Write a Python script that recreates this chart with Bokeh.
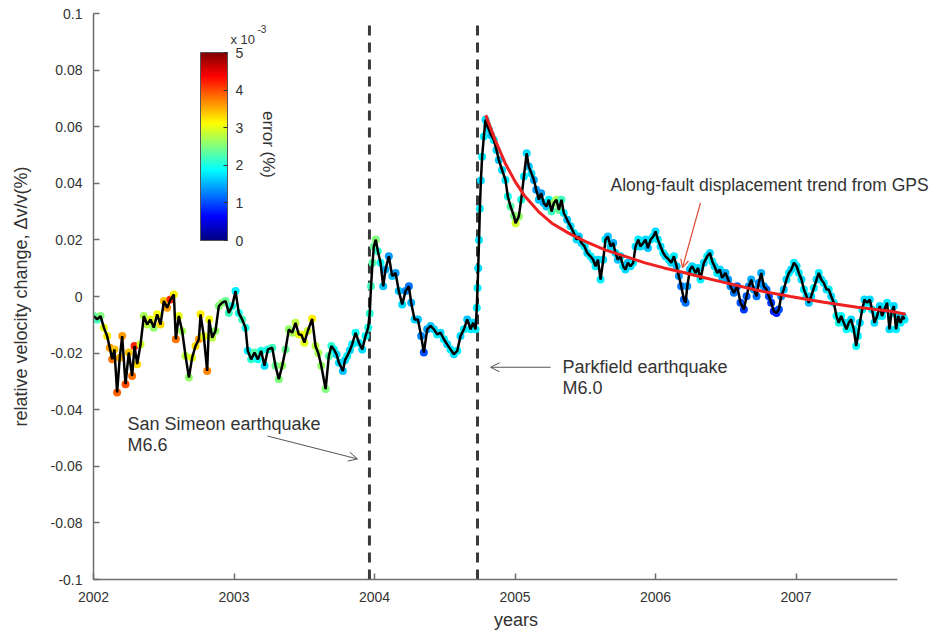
import numpy as np
from bokeh.plotting import figure
from bokeh.models import (ColumnDataSource, LinearColorMapper, ColorBar, FixedTicker,
                          CustomJSTickFormatter, Label, Arrow, OpenHead, Range1d)
from bokeh.transform import linear_cmap
from bokeh.embed import file_html
from bokeh.resources import INLINE

# ---- data ----
years = [
    2002.002, 2002.026, 2002.050, 2002.074, 2002.097, 2002.116, 2002.133, 2002.149, 2002.168, 2002.187,
    2002.204, 2002.228, 2002.251, 2002.275, 2002.292, 2002.311, 2002.335, 2002.358, 2002.382, 2002.406,
    2002.429, 2002.453, 2002.477, 2002.501, 2002.524, 2002.548, 2002.572, 2002.586, 2002.607, 2002.631,
    2002.655, 2002.679, 2002.702, 2002.726, 2002.750, 2002.762, 2002.785, 2002.809, 2002.823, 2002.845,
    2002.868, 2002.892, 2002.916, 2002.940, 2002.963, 2002.987, 2003.011, 2003.034, 2003.058, 2003.082,
    2003.098, 2003.122, 2003.146, 2003.170, 2003.193, 2003.217, 2003.241, 2003.272, 2003.295, 2003.319,
    2003.343, 2003.367, 2003.390, 2003.414, 2003.438, 2003.461,
    2003.480, 2003.501, 2003.525, 2003.556, 2003.580, 2003.600, 2003.621, 2003.652, 2003.675, 2003.693,
    2003.711, 2003.730, 2003.747, 2003.775, 2003.790, 2003.806, 2003.825, 2003.841, 2003.865, 2003.889,
    2003.913, 2003.936, 2003.955, 2003.966, 2003.975, 2003.986, 2003.995, 2004.009,
    2004.024, 2004.043, 2004.062, 2004.078, 2004.102, 2004.126, 2004.150, 2004.173, 2004.197, 2004.221,
    2004.245, 2004.261, 2004.285, 2004.309, 2004.332, 2004.351, 2004.375, 2004.399, 2004.423, 2004.446,
    2004.470, 2004.494, 2004.517, 2004.541, 2004.565, 2004.589, 2004.612, 2004.636, 2004.660, 2004.684,
    2004.702, 2004.719, 2004.728, 2004.733, 2004.738, 2004.744, 2004.750, 2004.757, 2004.766, 2004.778,
    2004.790,
    2004.802, 2004.814, 2004.830, 2004.849, 2004.868, 2004.885, 2004.908, 2004.932, 2004.949, 2004.968,
    2004.992, 2005.004, 2005.027, 2005.044, 2005.063, 2005.083, 2005.098, 2005.117, 2005.134, 2005.151,
    2005.170, 2005.186, 2005.205, 2005.224, 2005.241, 2005.260, 2005.276, 2005.295, 2005.312, 2005.331,
    2005.347, 2005.371, 2005.395, 2005.419, 2005.438, 2005.454, 2005.473, 2005.495, 2005.514, 2005.537,
    2005.556, 2005.573, 2005.590, 2005.609, 2005.628, 2005.644, 2005.661, 2005.680, 2005.699, 2005.715,
    2005.732, 2005.751, 2005.770, 2005.786, 2005.803, 2005.822, 2005.841, 2005.858, 2005.877, 2005.893,
    2005.912, 2005.929, 2005.946, 2005.965, 2005.984, 2006.000, 2006.017, 2006.036, 2006.055, 2006.071,
    2006.095, 2006.112, 2006.131, 2006.150, 2006.166, 2006.183, 2006.202, 2006.214, 2006.226, 2006.245,
    2006.261, 2006.285, 2006.303,
    2006.320, 2006.344, 2006.368, 2006.387, 2006.404, 2006.420, 2006.439, 2006.458, 2006.474, 2006.498,
    2006.517, 2006.534, 2006.558, 2006.581, 2006.605, 2006.629, 2006.648, 2006.665, 2006.681, 2006.700,
    2006.719, 2006.735, 2006.752, 2006.771, 2006.790, 2006.807, 2006.823, 2006.842, 2006.861, 2006.878,
    2006.894, 2006.913, 2006.932, 2006.949, 2006.966, 2006.985, 2007.004, 2007.020, 2007.039, 2007.056,
    2007.075, 2007.091, 2007.108, 2007.127, 2007.146, 2007.162, 2007.179, 2007.198, 2007.217, 2007.233,
    2007.250, 2007.269, 2007.288, 2007.304, 2007.321, 2007.340, 2007.359, 2007.375, 2007.392, 2007.411,
    2007.428, 2007.440, 2007.454, 2007.471, 2007.487, 2007.506, 2007.525, 2007.541, 2007.558, 2007.577,
    2007.596, 2007.612, 2007.629, 2007.648, 2007.665, 2007.679, 2007.696, 2007.712, 2007.727, 2007.744,
    2007.760, 2007.772,
]

dvv = [
    -0.0069, -0.0081, -0.0069, -0.0110, -0.0140, -0.0181, -0.0222, -0.0187, -0.0339, -0.0216,
    -0.0140, -0.0310, -0.0198, -0.0281, -0.0175, -0.0239, -0.0169, -0.0069, -0.0099, -0.0081,
    -0.0110, -0.0063, -0.0099, -0.0016, -0.0040, -0.0011, 0.0007, -0.0151, -0.0069, -0.0122,
    -0.0210, -0.0286, -0.0216, -0.0175, -0.0151, -0.0063, -0.0140, -0.0263, -0.0081, -0.0146,
    -0.0122, -0.0034, -0.0022, -0.0016, -0.0058, -0.0034, 0.0019, -0.0058, -0.0081, -0.0110,
    -0.0192, -0.0222, -0.0198, -0.0222, -0.0192, -0.0245, -0.0187, -0.0181, -0.0245, -0.0292,
    -0.0245, -0.0187, -0.0116, -0.0128, -0.0093, -0.0134,
    -0.0135, -0.0163, -0.0122, -0.0079, -0.0175, -0.0200, -0.0245, -0.0327, -0.0210, -0.0175,
    -0.0187, -0.0205, -0.0234, -0.0263, -0.0225, -0.0210, -0.0190, -0.0169, -0.0128, -0.0163,
    -0.0187, -0.0140, -0.0110, -0.0060, 0.0036, 0.0119, 0.0177, 0.0201,
    0.0160, 0.0119, 0.0036, 0.0095, 0.0142, 0.0072, 0.0083, 0.0019, -0.0028, 0.0019,
    0.0036, -0.0022, -0.0081, -0.0081, -0.0140, -0.0198, -0.0116, -0.0104, -0.0116, -0.0134,
    -0.0128, -0.0151, -0.0169, -0.0187, -0.0204, -0.0192, -0.0140, -0.0116, -0.0081, -0.0116,
    -0.0093, -0.0116, -0.0040, 0.0030, 0.0100, 0.0200, 0.0310, 0.0410, 0.0494, 0.0565,
    0.0625,
    0.0605, 0.0590, 0.0570, 0.0553, 0.0518, 0.0482, 0.0447, 0.0412, 0.0353, 0.0318,
    0.0285, 0.0259, 0.0283, 0.0342, 0.0424, 0.0506, 0.0459, 0.0435, 0.0412, 0.0377,
    0.0342, 0.0365, 0.0330, 0.0318, 0.0342, 0.0300, 0.0330, 0.0342, 0.0306, 0.0342,
    0.0295, 0.0271, 0.0248, 0.0224, 0.0201, 0.0212, 0.0189, 0.0177, 0.0154, 0.0142,
    0.0130, 0.0107, 0.0130, 0.0060, 0.0130, 0.0201, 0.0212, 0.0177, 0.0189, 0.0154,
    0.0130, 0.0142, 0.0107, 0.0095, 0.0119, 0.0107, 0.0119, 0.0177, 0.0201, 0.0177,
    0.0189, 0.0201, 0.0171, 0.0201, 0.0212, 0.0230, 0.0201, 0.0177, 0.0154, 0.0142,
    0.0130, 0.0119, 0.0142, 0.0107, 0.0072, 0.0036, -0.0011, -0.0022, 0.0036, 0.0095,
    0.0107, 0.0083, 0.0101,
    0.0060, 0.0119, 0.0142, 0.0154, 0.0124, 0.0107, 0.0083, 0.0095, 0.0066, 0.0083,
    0.0060, 0.0036, 0.0013, 0.0036, -0.0022, -0.0046, 0.0001, 0.0036, 0.0060, 0.0025,
    0.0001, 0.0048, 0.0083, 0.0036, 0.0025, 0.0001, -0.0022, -0.0052, -0.0058, -0.0046,
    0.0001, 0.0025, 0.0060, 0.0083, 0.0095, 0.0119, 0.0107, 0.0083, 0.0060, 0.0025,
    0.0001, -0.0022, 0.0001, 0.0030, 0.0060, 0.0083, 0.0060, 0.0048, 0.0025, 0.0025,
    0.0001, -0.0022, -0.0069, -0.0093, -0.0069, -0.0093, -0.0116, -0.0093, -0.0081, -0.0116,
    -0.0175, -0.0140, -0.0093, -0.0046, -0.0011, -0.0022, -0.0011, -0.0046, -0.0093, -0.0069,
    -0.0034, -0.0069, -0.0046, -0.0022, -0.0116, -0.0058, -0.0034, -0.0116, -0.0069, -0.0093,
    -0.0069, -0.0081,
]

# error of each point, in units of 1e-3 %
err = [
    2.4, 2.2, 2.5, 3.0, 3.2, 3.6, 3.8, 3.4, 3.9, 3.5,
    3.6, 4.0, 3.4, 3.8, 4.2, 3.3, 2.9, 2.7, 2.8, 3.0,
    2.6, 3.1, 3.3, 3.4, 3.6, 4.2, 3.2, 3.8, 3.0, 2.7,
    2.8, 2.6, 3.0, 3.3, 3.6, 3.2, 3.0, 3.7, 3.1, 2.8,
    2.6, 2.5, 2.6, 2.4, 2.2, 2.0, 1.8, 2.0, 2.2, 2.0,
    1.8, 2.1, 2.3, 1.9, 2.0, 1.7, 2.0, 2.2, 2.4, 2.5,
    2.6, 2.4, 2.6, 2.7, 2.8, 3.0,
    3.1, 3.0, 2.9, 3.2, 2.8, 2.7, 2.6, 2.5, 2.3, 2.1,
    1.9, 1.7, 1.7, 1.6, 1.7, 1.8, 1.7, 1.8, 1.9, 1.8,
    1.7, 1.9, 2.0, 2.1, 2.2, 2.3, 2.4, 2.5,
    2.1, 1.9, 1.6, 1.5, 1.4, 1.6, 1.4, 1.6, 1.7, 1.3,
    1.2, 1.5, 1.7, 1.6, 1.3, 1.0, 1.4, 1.6, 1.7, 1.8,
    1.7, 1.8, 1.7, 1.8, 1.7, 1.8, 1.7, 1.8, 1.6, 1.8,
    1.7, 1.8, 1.8, 1.8, 1.7, 1.8, 1.8, 1.7, 1.8, 1.8,
    1.7,
    1.8, 1.7, 1.6, 1.8, 1.7, 1.6, 1.7, 1.8, 2.0, 2.3,
    2.5, 2.9, 2.6, 2.0, 1.8, 1.7, 1.6, 1.7, 1.5, 1.4,
    1.6, 1.4, 1.5, 1.6, 1.8, 2.2, 2.6, 2.7, 2.4, 2.2,
    1.8, 1.6, 1.7, 1.8, 1.7, 1.6, 1.7, 1.8, 1.7, 1.8,
    1.7, 1.8, 1.7, 1.8, 1.7, 1.8, 1.6, 1.7, 1.5, 1.7,
    1.6, 1.7, 1.8, 1.7, 1.6, 1.7, 1.8, 1.7, 1.8, 1.7,
    1.8, 1.7, 1.6, 1.7, 1.8, 1.7, 1.8, 1.7, 1.8, 1.7,
    1.8, 1.7, 1.8, 1.6, 1.4, 1.2, 1.1, 1.2, 1.4, 1.6,
    1.7, 1.8, 1.7,
    1.8, 1.7, 1.8, 1.7, 1.8, 1.7, 1.8, 1.7, 1.6, 1.5,
    1.4, 1.3, 1.2, 1.1, 1.0, 0.9, 1.1, 1.3, 1.5, 1.4,
    1.2, 1.3, 1.5, 1.4, 1.2, 1.0, 0.9, 0.8, 0.8, 1.0,
    1.3, 1.6, 1.7, 1.8, 1.7, 1.8, 1.7, 1.8, 1.7, 1.8,
    1.7, 1.6, 1.7, 1.8, 1.7, 1.8, 1.7, 1.8, 1.7, 1.8,
    1.7, 1.8, 1.9, 2.0, 1.9, 1.8, 1.9, 1.8, 1.7, 1.8,
    1.9, 1.8, 1.7, 1.8, 1.7, 1.8, 1.7, 1.8, 1.7, 1.8,
    1.7, 1.8, 1.7, 1.8, 1.7, 1.8, 1.7, 1.8, 1.7, 1.8,
    1.7, 1.8,
]

# GPS along-fault displacement trend
trend_years = [2004.792, 2004.859, 2004.930, 2005.001, 2005.072, 2005.167, 2005.262, 2005.381,
               2005.499, 2005.641, 2005.784, 2005.926, 2006.060, 2006.200, 2006.320, 2006.486,
               2006.724, 2006.961, 2007.198, 2007.435, 2007.673, 2007.780]
trend_dvv = [0.0641, 0.0553, 0.0471, 0.0406, 0.0353, 0.0300, 0.0259, 0.0224,
             0.0195, 0.0165, 0.0142, 0.0119, 0.0101, 0.0085, 0.0070, 0.0050,
             0.0022, 0.0000, -0.0020, -0.0038, -0.0052, -0.0063]

quake_years = [2003.964, 2004.733]
quake_line_bottom = [-0.1, -0.1]
quake_line_top = [0.097, 0.097]

x_ticks = [2002, 2003, 2004, 2005, 2006, 2007]
x_axis_end = 2007.72
y_ticks = [-0.1, -0.08, -0.06, -0.04, -0.02, 0.0, 0.02, 0.04, 0.06, 0.08, 0.1]
cbar_ticks = [0, 1, 2, 3, 4, 5]


def jet(n=256):
    pal = []
    for i in range(n):
        v = i / (n - 1)
        r = min(max(1.5 - abs(4 * v - 3), 0), 1)
        g = min(max(1.5 - abs(4 * v - 2), 0), 1)
        b = min(max(1.5 - abs(4 * v - 1), 0), 1)
        pal.append("#%02x%02x%02x" % (int(r * 255), int(g * 255), int(b * 255)))
    return pal


JET = jet()
FONT = "Liberation Sans"
TXT = "#333333"
AX = "#6e6e6e"

p = figure(width=940, height=632, output_backend="svg", toolbar_location=None,
           x_range=Range1d(2002, 2008.014), y_range=Range1d(-0.1, 0.1),
           min_border_left=93, min_border_right=2, min_border_top=13, min_border_bottom=50)
p.outline_line_color = None
p.grid.visible = False
p.background_fill_color = "white"

p.xaxis.ticker = FixedTicker(ticks=x_ticks)
p.xaxis.bounds = (2002, x_axis_end)
p.yaxis.ticker = FixedTicker(ticks=y_ticks)
p.yaxis.formatter = CustomJSTickFormatter(code="return (Math.round(tick*100)/100).toString();")
for ax in (p.xaxis[0], p.yaxis[0]):
    ax.axis_line_color = AX
    ax.axis_line_width = 1.5
    ax.major_tick_line_color = AX
    ax.major_tick_line_width = 1.5
    ax.major_tick_in = 6
    ax.major_tick_out = 0
    ax.minor_tick_line_color = None
    ax.major_label_text_font = FONT
    ax.major_label_text_font_size = "14px"
    ax.major_label_text_color = TXT
    ax.axis_label_text_font = FONT
    ax.axis_label_text_font_size = "18px"
    ax.axis_label_text_font_style = "normal"
    ax.axis_label_text_color = TXT
p.xaxis.axis_label = "years"
p.yaxis.axis_label = "relative velocity change, \u0394v/v(%)"
p.xaxis.major_label_standoff = 12
p.xaxis.axis_label_standoff = 5
p.yaxis.major_label_standoff = 11
p.yaxis.axis_label_standoff = 17

# earthquake markers
p.segment(x0=quake_years, y0=quake_line_bottom, x1=quake_years, y1=quake_line_top,
          line_color="#3a3a3a", line_width=3, line_dash="10 7")

src = ColumnDataSource(dict(x=years, y=dvv, err=err))
p.scatter("x", "y", source=src, size=8, line_color=None,
          fill_color=linear_cmap("err", JET, 0, 5))
p.line("x", "y", source=src, line_color="black", line_width=2.5)

p.line(trend_years, trend_dvv, line_color="#ee2020", line_width=3)

# colour bar
mapper = LinearColorMapper(palette=JET, low=0, high=5)
cb = ColorBar(color_mapper=mapper, location=(107, 339), width=27, height=188,
              padding=0, margin=0, ticker=FixedTicker(ticks=cbar_ticks),
              major_label_text_font=FONT, major_label_text_font_size="14px",
              major_label_text_color=TXT, label_standoff=8,
              major_tick_line_color="#333333", major_tick_in=4, major_tick_out=0,
              bar_line_color="#555555", background_fill_color=None, border_line_color=None)
p.add_layout(cb)

p.add_layout(Label(x=137, y=540, x_units="screen", y_units="screen", text="x 10",
                   text_font=FONT, text_font_size="13px", text_color=TXT, text_baseline="middle"))
p.add_layout(Label(x=164, y=551, x_units="screen", y_units="screen", text="-3",
                   text_font=FONT, text_font_size="10px", text_color=TXT, text_baseline="middle"))
p.add_layout(Label(x=175, y=435, x_units="screen", y_units="screen", text="error (%)",
                   angle=-np.pi / 2, text_align="center", text_baseline="middle",
                   text_font=FONT, text_font_size="17px", text_color=TXT))


# annotations
def note(x, y, t, size="18px", color=TXT):
    p.add_layout(Label(x=x, y=y, text=t, text_font=FONT, text_font_size=size,
                       text_color=color, text_baseline="middle"))


note(2002.242, -0.0451, "San Simeon earthquake")
note(2002.242, -0.0525, "M6.6")
note(2005.338, -0.0250, "Parkfield earthquake")
note(2005.338, -0.0324, "M6.0")
note(2005.680, 0.0394, "Along-fault displacement trend from GPS", size="17.5px")

p.add_layout(Arrow(x_start=2003.238, y_start=-0.0493, x_end=2003.879, y_end=-0.0574,
                   line_color="#555555", line_width=1,
                   end=OpenHead(size=9, line_color="#555555", line_width=1)))
p.add_layout(Arrow(x_start=2005.253, y_start=-0.0250, x_end=2004.826, y_end=-0.0250,
                   line_color="#555555", line_width=1,
                   end=OpenHead(size=9, line_color="#555555", line_width=1)))
p.add_layout(Arrow(x_start=2006.320, y_start=0.0331, x_end=2006.192, y_end=0.0102,
                   line_color="#e04a30", line_width=1.2,
                   end=OpenHead(size=8, line_color="#e04a30", line_width=1.2)))

open("out.html", "w").write(file_html(p, INLINE))
